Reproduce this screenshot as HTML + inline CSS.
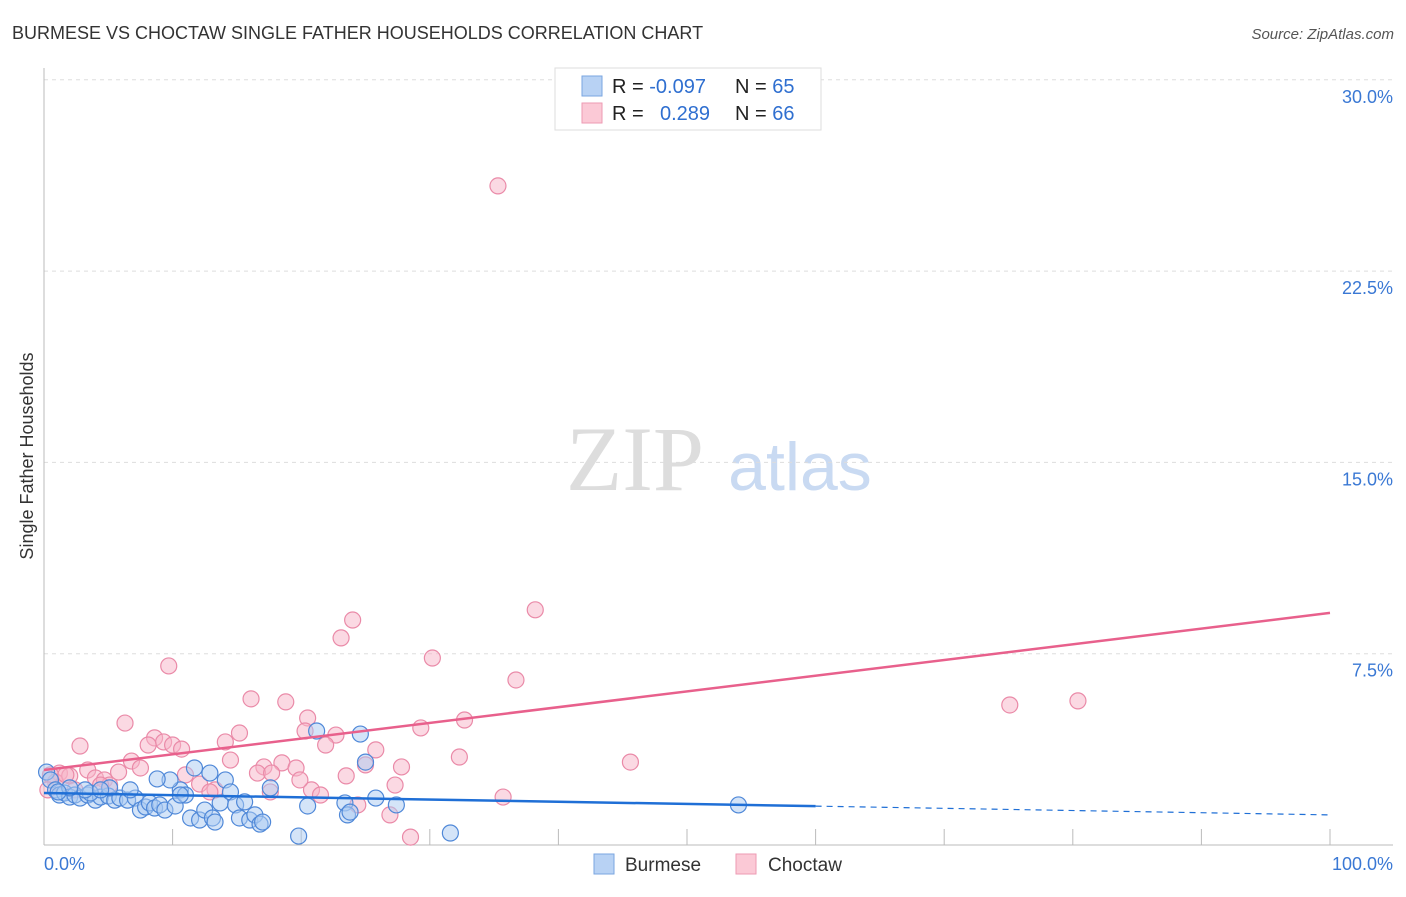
<!DOCTYPE html>
<html><head><meta charset="utf-8"><style>
body{margin:0;background:#fff;font-family:"Liberation Sans",sans-serif;}
</style></head><body>
<svg id="chart" width="1406" height="892" xmlns="http://www.w3.org/2000/svg" font-family="Liberation Sans, sans-serif">
<text x="12" y="39" font-size="18" fill="#333">BURMESE VS CHOCTAW SINGLE FATHER HOUSEHOLDS CORRELATION CHART</text>
<text x="1394" y="39" font-size="15" fill="#555" font-style="italic" text-anchor="end">Source: ZipAtlas.com</text>
<text x="33" y="456" font-size="18" fill="#333" transform="rotate(-90 33 456)" text-anchor="middle">Single Father Households</text>
<g><text x="635" y="490" font-size="92" fill="#ddd" font-family="Liberation Serif, serif" text-anchor="middle">ZIP</text><text x="800" y="490" font-size="68" fill="#c9daf2" text-anchor="middle">atlas</text></g>
<g id="grid"></g><g id="marks"></g>
<g>
<rect x="555" y="68" width="266" height="62" fill="#fff" stroke="#ddd"/>
<rect x="582" y="76" width="20" height="20" fill="#b8d2f4" stroke="#7aa6e0"/>
<rect x="582" y="103" width="20" height="20" fill="#fbc9d6" stroke="#ee9ab3"/>
<text x="612" y="93" font-size="20" fill="#222">R = <tspan fill="#2f6fd0">-0.097</tspan></text>
<text x="735" y="93" font-size="20" fill="#222">N = <tspan fill="#2f6fd0">65</tspan></text>
<text x="612" y="120" font-size="20" fill="#222">R = <tspan fill="#2f6fd0" x="660">0.289</tspan></text>
<text x="735" y="120" font-size="20" fill="#222">N = <tspan fill="#2f6fd0">66</tspan></text>
</g>
<g>
<rect x="594" y="854" width="20" height="20" fill="#b8d2f4" stroke="#7aa6e0"/>
<text x="625" y="871" font-size="19" fill="#333">Burmese</text>
<rect x="736" y="854" width="20" height="20" fill="#fbc9d6" stroke="#ee9ab3"/>
<text x="768" y="871" font-size="19" fill="#333">Choctaw</text>
</g>
</svg>
<script>
const yTicks=[7.5,15,22.5,30];
const yTickLabels=["7.5%","15.0%","22.5%","30.0%"];
const xTickLabels=["0.0%","100.0%"];
const blueX=[0.2,0.5,0.9,1.2,1.6,2.0,2.4,2.8,3.4,4.0,4.4,5.0,5.5,5.9,6.5,7.1,7.5,7.9,8.2,8.6,9.0,9.4,10.2,10.6,11.0,11.4,11.7,12.1,12.5,12.9,13.1,13.3,13.7,14.1,14.5,14.9,15.2,15.6,16.0,16.4,16.8,17.0,17.6,19.8,20.5,21.2,23.4,23.6,23.8,24.6,25.0,25.8,27.4,31.6,54.0,9.8,8.8,6.7,5.1,3.6,3.2,2.0,1.1,4.4,10.6];
const blueY=[2.86,2.55,2.16,1.96,2.04,1.88,1.96,1.84,1.96,1.76,1.88,1.92,1.76,1.84,1.76,1.84,1.37,1.49,1.65,1.45,1.57,1.37,1.53,2.16,1.96,1.06,3.02,0.98,1.37,2.82,1.06,0.90,1.65,2.55,2.08,1.57,1.06,1.69,0.98,1.18,0.82,0.90,2.24,0.35,1.53,4.47,1.65,1.18,1.29,4.35,3.25,1.84,1.57,0.47,1.57,2.55,2.59,2.16,2.24,2.04,2.16,2.24,2.08,2.16,1.96];
const pinkX=[35.3,38.2,24.0,23.1,30.2,9.7,36.7,80.4,75.1,16.1,18.8,20.5,32.7,6.3,15.2,29.3,20.3,22.7,8.6,9.3,14.1,10.0,8.1,2.8,10.7,21.9,25.8,32.3,45.6,6.8,7.5,18.5,17.1,19.6,14.5,25.0,27.8,3.4,5.8,16.6,17.7,23.5,1.2,0.5,4.0,4.7,0.9,2.0,5.1,12.1,13.3,12.9,17.6,20.8,21.5,27.3,35.7,24.4,26.9,28.5,0.3,1.7,2.4,11.0,4.4,19.9];
const pinkY=[25.84,9.22,8.82,8.12,7.33,7.02,6.47,5.65,5.49,5.73,5.61,4.98,4.90,4.78,4.39,4.59,4.47,4.31,4.20,4.04,4.04,3.92,3.92,3.88,3.76,3.92,3.73,3.45,3.25,3.29,3.02,3.22,3.06,3.02,3.33,3.14,3.06,2.94,2.86,2.82,2.82,2.71,2.82,2.75,2.63,2.55,2.47,2.71,2.35,2.39,2.16,2.08,2.08,2.16,1.96,2.35,1.88,1.57,1.18,0.31,2.16,2.75,2.16,2.75,2.35,2.55];
const blueTrend=[2.04,1.18];
const pinkTrend=[2.94,9.1];
const NS="http://www.w3.org/2000/svg";
const X0=44,X1=1330,Y0=845,PXP=191.3/7.5;
function sx(v){return X0+(X1-X0)*v/100;}
function sy(v){return Y0-v*PXP;}
function mk(tag,attrs,parent){const e=document.createElementNS(NS,tag);for(const k in attrs)e.setAttribute(k,attrs[k]);parent.appendChild(e);return e;}
const grid=document.getElementById('grid'),marks=document.getElementById('marks');
yTicks.forEach((t,i)=>{
 const l=mk('line',{x1:X0,x2:1393,y1:sy(t),y2:sy(t),stroke:'#ddd','stroke-dasharray':'4,4'},grid);
 
 
 const tx=mk('text',{x:1393,y:sy(t)+23,'font-size':18,fill:'#3a78d4','text-anchor':'end'},grid);
 tx.textContent=yTickLabels[i];
 
 
});
const ax=mk('line',{x1:X0,x2:1393,y1:Y0,y2:Y0,stroke:'#bbb'},grid);


const ay=mk('line',{x1:X0,x2:X0,y1:68,y2:Y0,stroke:'#bbb'},grid);


for(let i=1;i<=10;i++){
 const t=mk('line',{x1:sx(i*10),x2:sx(i*10),y1:Y0-16,y2:Y0,stroke:'#bbb'},grid);
 
 
}
[[0,'start',44],[100,'end',1393]].forEach((d,i)=>{
 const tx=mk('text',{x:d[2],y:870,'font-size':18,fill:'#3a78d4','text-anchor':d[1]},grid);
 tx.textContent=xTickLabels[i];
 
 
});
function dots(xs,ys,fill,stroke,name){xs.forEach((x,i)=>{
 const c=mk('circle',{cx:sx(x),cy:sy(ys[i]),r:8,fill:fill,'fill-opacity':0.5,stroke:stroke,'stroke-width':1.2},marks);
 
 
});}
dots(pinkX,pinkY,'#f8b4c8','#ea8aa8','choctaw-point');
dots(blueX,blueY,'#a9c9f1','#4f88d8','burmese-point');
const pl=mk('line',{x1:sx(0),y1:sy(pinkTrend[0]),x2:sx(100),y2:sy(pinkTrend[1]),stroke:'#e8608c','stroke-width':2.5},marks);


const bmid=blueTrend[0]+(blueTrend[1]-blueTrend[0])*0.6;
const bl=mk('line',{x1:sx(0),y1:sy(blueTrend[0]),x2:sx(60),y2:sy(bmid),stroke:'#1f6fd6','stroke-width':2.5},marks);


const bd=mk('line',{x1:sx(60),y1:sy(bmid),x2:sx(100),y2:sy(blueTrend[1]),stroke:'#1f6fd6','stroke-width':1.2,'stroke-dasharray':'6,5'},marks);


</script>
</body></html>
